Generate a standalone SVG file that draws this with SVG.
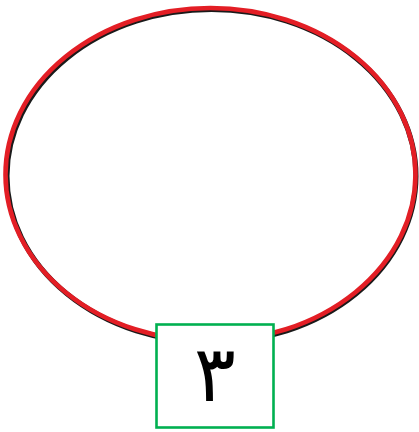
<svg xmlns="http://www.w3.org/2000/svg" width="419" height="432" viewBox="0 0 419 432">
<style>
.ring-shadow{fill:none;stroke:#1a1a1a;stroke-width:5}
.ring{fill:none;stroke:#e31e25;stroke-width:4.6}
.box{fill:#ffffff;stroke:#00b050;stroke-width:2.6}
.num{font-family:"DejaVu Sans","Noto Sans",sans-serif;font-size:78px;font-weight:normal;fill:#000000;text-anchor:middle}
</style>
<rect width="419" height="432" fill="#ffffff"/>
<g id="ring">
<ellipse class="ring-shadow" cx="211.5" cy="176" rx="204.5" ry="166.5"/>
<ellipse class="ring" cx="210.5" cy="174.5" rx="205" ry="166.5"/>
</g>
<g id="label-box">
<rect class="box" x="156.5" y="324.5" width="117" height="103"/>
<text class="num" x="215" y="401">۳</text>
</g>
</svg>
